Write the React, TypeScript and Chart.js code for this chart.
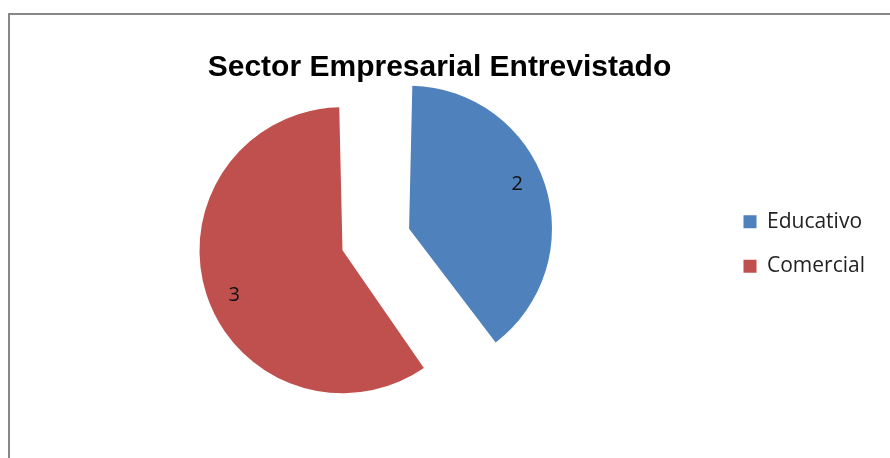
import { useEffect, useRef } from "react";
import { Chart, registerables } from "chart.js";

Chart.register(...registerables);

const categories = ["Educativo", "Comercial"];
const values = [2, 3];
const sliceColors = ["#4F81BD", "#C0504D"];
const chartTitle = "Sector Empresarial Entrevistado";

// Chart.js moves an arc out by offset/4 and grows its radius by (offset/4)*(1 - sin(min(PI, circumference))).
// These explode offsets give both slices the same final radius.
const explodeOffsets = [198, 82];

const dataLabelsPlugin = {
  id: "sliceValueLabels",
  afterDatasetsDraw(chart: any) {
    const ctx = chart.ctx;
    const meta = chart.getDatasetMeta(0);
    ctx.save();
    ctx.font = "20px 'Open Sans', sans-serif";
    ctx.fillStyle = "#111";
    ctx.textAlign = "center";
    ctx.textBaseline = "middle";
    meta.data.forEach((arc: any, i: number) => {
      const p = arc.getProps(["x", "y", "startAngle", "endAngle", "outerRadius", "circumference"], true);
      const bis = (p.startAngle + p.endAngle) / 2;
      const shift = (arc.options.offset || 0) / 4;
      const grow = shift * (1 - Math.sin(Math.min(Math.PI, p.circumference || 0)));
      const cx = p.x + Math.cos(bis) * shift;
      const cy = p.y + Math.sin(bis) * shift;
      const a = bis - (4.5 * Math.PI) / 180;
      const r = (p.outerRadius + grow) * 0.82;
      ctx.fillText(String(chart.data.datasets[0].data[i]), cx + Math.cos(a) * r, cy + Math.sin(a) * r);
    });
    ctx.restore();
  },
};

export default function App() {
  const ref = useRef<HTMLCanvasElement | null>(null);

  useEffect(() => {
    if (!ref.current) return;
    const chart = new Chart(ref.current, {
      type: "pie",
      data: {
        labels: categories,
        datasets: [
          {
            data: values,
            backgroundColor: sliceColors,
            borderWidth: 0,
            offset: explodeOffsets,
            clip: false,
          },
        ],
      },
      options: {
        responsive: false,
        animation: false,
        events: [],
        radius: 122.5,
        layout: { padding: { left: 4, right: 15, top: 0, bottom: 66 } },
        plugins: {
          title: {
            display: true,
            text: chartTitle,
            color: "#000",
            font: { family: "'Liberation Sans', Arial, sans-serif", size: 30, weight: "bold" },
            padding: { top: 50, bottom: 10 },
          },
          legend: {
            display: true,
            position: "right",
            fullSize: false,
            labels: {
              boxWidth: 13,
              boxHeight: 13,
              padding: 23.5,
              color: "#222",
              font: { family: "'Open Sans', sans-serif", size: 21 },
            },
          },
          tooltip: { enabled: false },
        },
      } as any,
      plugins: [dataLabelsPlugin],
    });
    return () => chart.destroy();
  }, []);

  return (
    <div style={{ position: "fixed", left: 0, top: 0, width: 890, height: 458, background: "#fff", overflow: "hidden" }}>
      <div
        style={{
          position: "absolute",
          left: 8,
          top: 13,
          width: 900,
          height: 470,
          borderTop: "2px solid #878787",
          borderLeft: "2px solid #878787",
        }}
      />
      <canvas ref={ref} width={890} height={458} style={{ position: "absolute", left: 0, top: 0, display: "block" }} />
    </div>
  );
}
